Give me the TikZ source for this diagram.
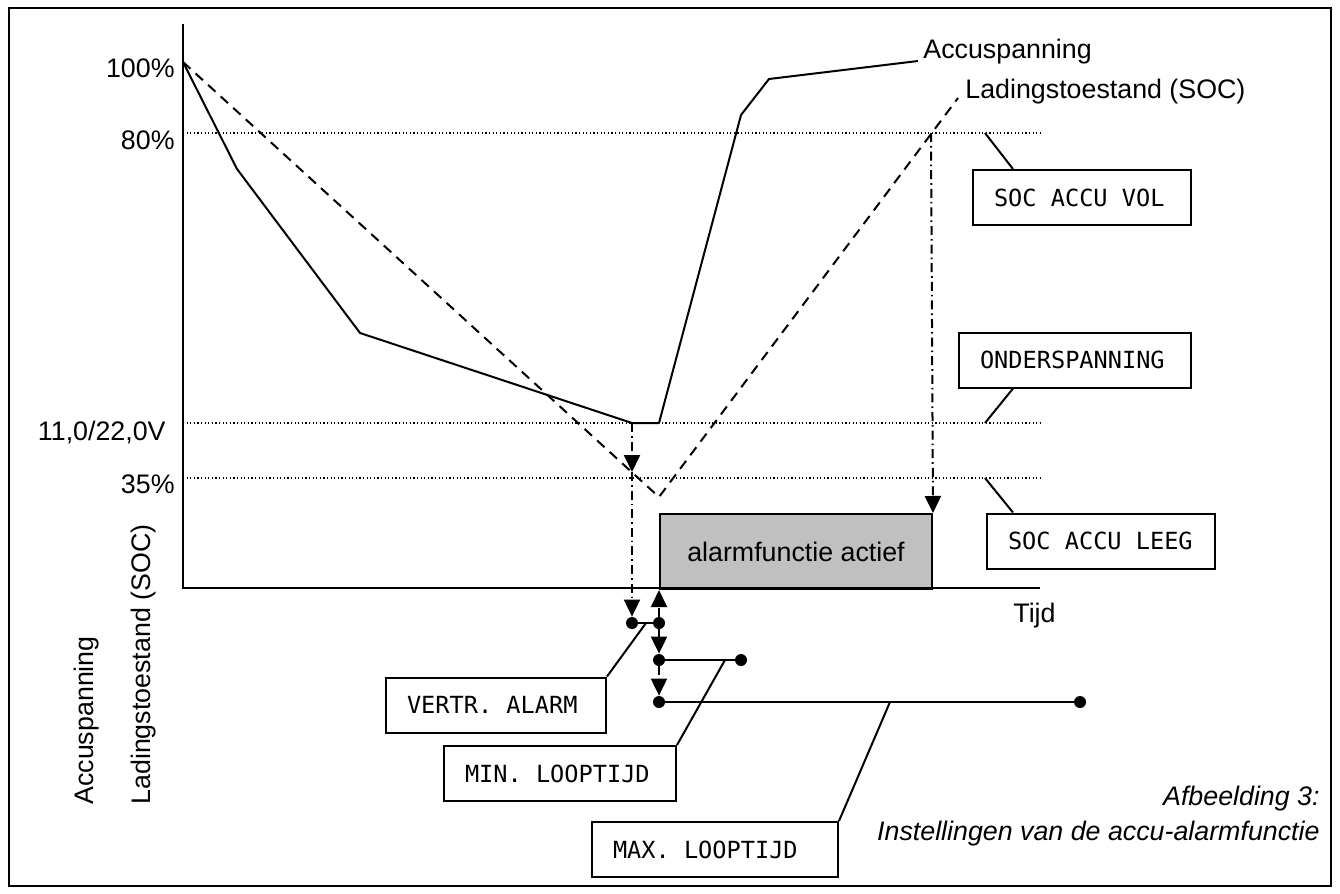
\documentclass[tikz,border=0pt]{standalone}
\usepackage{fontspec}
\setmainfont{Liberation Sans}
\newfontfamily\boxmono{DejaVu Sans Mono}
\usetikzlibrary{arrows.meta}
\newcommand\monoset{\boxmono\fontsize{11.8}{14}\selectfont}
\newcommand\msp{\hphantom{0}}
\begin{document}
\begin{tikzpicture}[x=0.5pt,y=-0.5pt,
  lbl/.style={font=\fontsize{13.4}{15}\selectfont, inner sep=0pt},
  tagbox/.style={draw, line width=1pt, font=\monoset,
     inner xsep=10.5pt, inner ysep=0pt, minimum height=27.5pt, anchor=west, align=left},
  curve/.style={line width=1pt, line join=round},
  soc/.style={line width=1pt, dash pattern=on 5pt off 3.5pt},
  guide/.style={line width=0.6pt, dash pattern=on 0.6pt off 1.2pt},
  dd/.style={line width=1pt, dash pattern=on 4.5pt off 2pt on 0.8pt off 2pt},
  tip/.style={-{Triangle[length=8.5pt,width=8pt]}},
  dot/.style={circle, fill, inner sep=0pt, minimum size=6pt},
  leader/.style={line width=1pt},
  axis/.style={line width=1pt}]
\useasboundingbox (0,0) rectangle (1340,894);
% frame
\draw[line width=1pt] (9,8) rectangle (1331,886);

% gray alarm box
\node[draw, line width=1pt, fill={rgb,255:red,192;green,192;blue,192}, anchor=north west,
  minimum width=136pt, minimum height=37.5pt, inner sep=0pt,
  font=\fontsize{13.4}{15}\selectfont] (alarm) at (659,513) {alarmfunctie actief};

% axes
\coordinate (ytop) at (183,24);
\coordinate (orig) at (183,588);
\coordinate (xend) at (1040,588);
\draw[axis] (ytop) -- (orig) -- (xend);

% guide lines
\coordinate (g80s) at (183,133); \coordinate (g80e) at (1040,133);
\coordinate (g11s) at (183,423); \coordinate (g11e) at (1040,423);
\coordinate (g35s) at (183,478); \coordinate (g35e) at (1040,478);
\draw[guide] (g80s) -- (g80e);
\draw[guide] (g11s) -- (g11e);
\draw[guide] (g35s) -- (g35e);

% battery voltage curve
\coordinate (a0) at (183,62);
\coordinate (a1) at (237,169);
\coordinate (a2) at (360,333);
\coordinate (a3) at (632,423);
\coordinate (a4) at (659,423);
\coordinate (a5) at (741,115);
\coordinate (a6) at (769,79);
\coordinate (a7) at (918,61);
\draw[curve] (a0) -- (a1) -- (a2) -- (a3) -- (a4) -- (a5) -- (a6) -- (a7);

% SOC curve
\coordinate (s1) at (659,497);
\coordinate (s2) at (958,98);
\draw[soc] (a0) -- (s1) -- (s2);

% labels
\node[lbl, anchor=base west] (lacc) at (923,58) {Accuspanning};
\node[lbl, anchor=base west] (lsoc) at (965,98) {Ladingstoestand (SOC)};
\node[lbl, anchor=base east] (l100) at (175,77) {100\%};
\node[lbl, anchor=base east] (l80) at (175,149) {80\%};
\node[lbl, anchor=base east] (l11) at (166,440) {11,0/22,0V};
\node[lbl, anchor=base east] (l35) at (175,493) {35\%};
\node[lbl, anchor=base west] (ltijd) at (1013,622) {Tijd};
\node[lbl, anchor=base west, rotate=90] (raxa) at (93,805) {Accuspanning};
\node[lbl, anchor=base west, rotate=90] (raxs) at (150,805) {Ladingstoestand (SOC)};
\node[lbl, anchor=base east, font=\fontsize{13.4}{15}\selectfont\itshape] (cap1) at (1320,805) {Afbeelding 3:};
\node[lbl, anchor=base east, font=\fontsize{13.4}{15}\selectfont\itshape] (cap2) at (1320,840) {Instellingen van de accu-alarmfunctie};

% setting boxes
\node[tagbox, text width=88pt] (vol) at (972,197.5) {SOC\msp ACCU\msp VOL};
\node[tagbox, text width=95pt] (onder) at (958,360) {ONDERSPANNING};
\node[tagbox, text width=93pt] (leeg) at (986,541) {SOC\msp ACCU\msp LEEG};
\node[tagbox, text width=89pt] (vertr) at (385,705) {VERTR.\msp ALARM};
\node[tagbox, text width=95pt] (minl) at (443,773.5) {MIN.\msp LOOPTIJD};
\node[tagbox, text width=102pt] (maxl) at (591,849.5) {MAX.\msp LOOPTIJD};

% leaders to the right-hand boxes
\coordinate (p80) at (985,133);
\coordinate (p11) at (985,423);
\coordinate (p35) at (985,478);
\draw[leader] (p80) -- ([xshift=20.5pt]vol.north west);
\draw[leader] (p11) -- ([xshift=27.5pt]onder.south west);
\draw[leader] (p35) -- ([xshift=13.5pt]leeg.north west);

% dots
\node[dot] (v1) at (632,623) {};
\node[dot] (v2) at (659,623) {};
\node[dot] (m1) at (659,660) {};
\node[dot] (m2) at (741,660) {};
\node[dot] (x1) at (659,702) {};
\node[dot] (x2) at (1080,702) {};
\draw[leader] (v1) -- (v2);
\draw[leader] (m1) -- (m2);
\draw[leader] (x1) -- (x2);

% dash-dot arrows
\coordinate (c35) at (632,472);
\coordinate (c80) at (931,133);
\draw[dd, tip] (a3) -- (c35);
\draw[dd, tip] (c35) -- (v1);
\draw[dd, tip] (c80) -- (alarm.north east);
\draw[dd, tip] (v2) -- (alarm.south west);
\draw[dd, tip] (v2) -- (m1);
\draw[dd, tip] (m1) -- (x1);

% leaders to the lower boxes
\coordinate (qv) at (646,623);
\coordinate (qm) at (725,660);
\coordinate (qx) at (890,702);
\draw[leader] (qv) -- (vertr.north east);
\draw[leader] (qm) -- (minl.north east);
\draw[leader] (qx) -- (maxl.north east);
\end{tikzpicture}
\end{document}
